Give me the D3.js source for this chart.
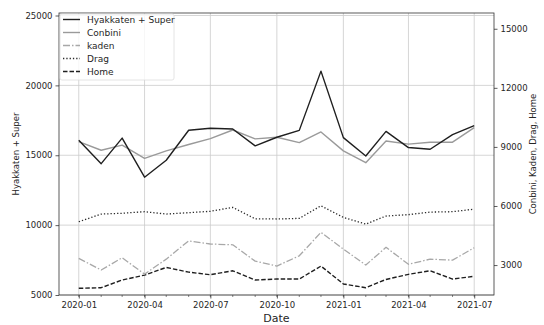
<!DOCTYPE html>
<html>
<head>
<meta charset="utf-8">
<script src="https://cdn.jsdelivr.net/npm/d3@7"></script>
<style>
  html, body { margin: 0; padding: 0; background: #fff; }
  svg { display: block; font-family: "DejaVu Sans", sans-serif; }
</style>
</head>
<body>
<svg id="chart" width="544" height="325"></svg>
<script>
// Monthly sales, January 2020 – July 2021
const months = ["2020-01","2020-02","2020-03","2020-04","2020-05","2020-06","2020-07","2020-08","2020-09","2020-10","2020-11","2020-12",
                "2021-01","2021-02","2021-03","2021-04","2021-05","2021-06","2021-07"];
const hyakkatenSuper = [16070,14400,16230,13430,14640,16790,16930,16880,15670,16290,16780,21020,16260,14950,16710,15550,15430,16480,17120];
const conbini = [9270,8830,9090,8420,8800,9120,9420,9860,9410,9490,9220,9760,8800,8200,9300,9140,9240,9240,9980];
const kaden   = [3340,2750,3370,2540,3300,4230,4070,4030,3200,2950,3470,4660,3810,3000,3900,3040,3300,3250,3880];
const drag    = [5200,5590,5630,5710,5590,5660,5730,5930,5350,5340,5370,6010,5420,5080,5490,5560,5690,5710,5840];
const home    = [1820,1850,2240,2490,2880,2640,2510,2710,2240,2290,2290,2950,2040,1850,2270,2530,2710,2290,2430];

const leftTicks  = [5000, 10000, 15000, 20000, 25000];
const rightTicks = [3000, 6000, 9000, 12000, 15000];
const xTickMonths = ["2020-01","2020-04","2020-07","2020-10","2021-01","2021-04","2021-07"];

const parse = d3.timeParse("%Y-%m");
const dates = months.map(parse);

const svg = d3.select("#chart");
const L = 59, R = 494, T = 13, B = 295;

// time axis padded by 5% on each side
const t0 = dates[0], t1 = dates[dates.length - 1];
const pad = (t1 - t0) * 0.05;
const x = d3.scaleTime().domain([new Date(+t0 - pad), new Date(+t1 + pad)]).range([L, R]);
const yL = d3.scaleLinear().domain([5000, 25180]).range([B, T]);
const yR = d3.scaleLinear().domain([1480, 15800]).range([B, T]);

// grid
const grid = svg.append("g").attr("stroke", "#cccccc").attr("stroke-width", 0.8);
xTickMonths.map(parse).forEach(d => {
  grid.append("line").attr("x1", x(d)).attr("x2", x(d)).attr("y1", T).attr("y2", B);
});
leftTicks.forEach(v => {
  grid.append("line").attr("x1", L).attr("x2", R).attr("y1", yL(v)).attr("y2", yL(v));
});

// series
const series = [
  { name: "Hyakkaten + Super", values: hyakkatenSuper, y: yL, color: "#1f1f1f", width: 1.4, dash: null },
  { name: "Conbini", values: conbini, y: yR, color: "#9a9a9a", width: 1.4, dash: null },
  { name: "kaden", values: kaden, y: yR, color: "#a8a8a8", width: 1.3, dash: "7,2,1.5,2" },
  { name: "Drag", values: drag, y: yR, color: "#2a2a2a", width: 1.3, dash: "1.3,2" },
  { name: "Home", values: home, y: yR, color: "#1f1f1f", width: 1.4, dash: "4.5,2" }
];

const plot = svg.append("g");
series.slice().reverse().forEach(s => {
  const line = d3.line().x((d, i) => x(dates[i])).y(d => s.y(d));
  plot.append("path")
    .datum(s.values)
    .attr("fill", "none")
    .attr("stroke", s.color)
    .attr("stroke-width", s.width)
    .attr("stroke-linejoin", "round")
    .attr("stroke-dasharray", s.dash)
    .attr("d", line);
});

// axes
const tickColor = "#333";
const xAxis = d3.axisBottom(x).tickValues(xTickMonths.map(parse)).tickFormat(d3.timeFormat("%Y-%m")).tickSize(3.5).tickPadding(3);
const gx = svg.append("g").attr("transform", `translate(0,${B})`).call(xAxis);
// monthly minor ticks
const gxm = svg.append("g").attr("transform", `translate(0,${B})`);
dates.forEach(d => {
  gxm.append("line").attr("x1", x(d)).attr("x2", x(d)).attr("y1", 0).attr("y2", 2).attr("stroke", tickColor).attr("stroke-width", 0.6);
});

const gl = svg.append("g").attr("transform", `translate(${L},0)`)
  .call(d3.axisLeft(yL).tickValues(leftTicks).tickFormat(d3.format("d")).tickSize(3.5).tickPadding(3));
const gr = svg.append("g").attr("transform", `translate(${R},0)`)
  .call(d3.axisRight(yR).tickValues(rightTicks).tickFormat(d3.format("d")).tickSize(3.5).tickPadding(3));

[gx, gl, gr].forEach(g => {
  g.select(".domain").remove();
  g.selectAll(".tick line").attr("stroke", tickColor).attr("stroke-width", 0.8);
  g.selectAll(".tick text").attr("fill", "#262626").style("font-size", "8.5px").style("font-family", "DejaVu Sans");
});

// frame
svg.append("rect").attr("x", L).attr("y", T).attr("width", R - L).attr("height", B - T)
  .attr("fill", "none").attr("stroke", "#333").attr("stroke-width", 0.8);

// axis titles
svg.append("text").attr("x", (L + R) / 2).attr("y", 322).attr("text-anchor", "middle")
  .style("font-size", "11px").attr("fill", "#262626").text("Date");
svg.append("text").attr("transform", `translate(19,${(T + B) / 2}) rotate(-90)`).attr("text-anchor", "middle")
  .style("font-size", "8.5px").attr("fill", "#262626").text("Hyakkaten + Super");
svg.append("text").attr("transform", `translate(536,${(T + B) / 2}) rotate(-90)`).attr("text-anchor", "middle")
  .style("font-size", "8.5px").attr("fill", "#262626").text("Conbini, Kaden, Drag, Home");

// legend
const lg = svg.append("g");
lg.append("rect").attr("x", 60).attr("y", 14).attr("width", 114).attr("height", 66).attr("rx", 2)
  .attr("fill", "#fff").attr("fill-opacity", 0.8).attr("stroke", "#dddddd").attr("stroke-width", 0.8);
series.forEach((s, i) => {
  const yy = 19.5 + i * 13;
  lg.append("line").attr("x1", 63).attr("x2", 80).attr("y1", yy).attr("y2", yy)
    .attr("stroke", s.color).attr("stroke-width", s.width).attr("stroke-dasharray", s.dash);
  lg.append("text").attr("x", 87).attr("y", yy).attr("dy", "0.35em")
    .style("font-size", "9px").attr("fill", "#262626").text(s.name);
});
</script>
</body>
</html>
